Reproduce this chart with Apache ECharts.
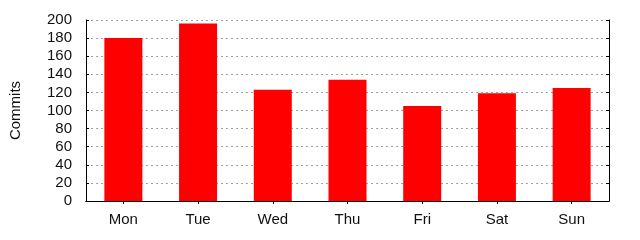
<!DOCTYPE html>
<html>
<head>
<meta charset="utf-8">
<script src="https://cdn.jsdelivr.net/npm/echarts@6/dist/echarts.min.js"></script>
<style>html,body{margin:0;padding:0;background:#fff}#c{width:640px;height:240px}</style>
</head>
<body>
<div id="c"></div>
<script>
const categories = ['Mon', 'Tue', 'Wed', 'Thu', 'Fri', 'Sat', 'Sun'];
const commits = [180, 196, 123, 134, 105, 119, 125];
const yTicks = [0, 20, 40, 60, 80, 100, 120, 140, 160, 180, 200];

const chart = echarts.init(document.getElementById('c'), null, {renderer: 'canvas'});
const font = 'Liberation Sans, Arial, sans-serif';
chart.setOption({
  animation: false,
  grid: {left: 84, right: 31, top: 20, bottom: 39, containLabel: false},
  xAxis: [{
    type: 'category', data: categories, position: 'bottom',
    axisLine: {lineStyle: {color: '#000', width: 1}},
    axisTick: {show: false},
    axisLabel: {color: '#111', fontFamily: font, fontSize: 15, margin: 11},
    splitLine: {show: false}
  }, {
    type: 'category', data: categories, position: 'top',
    axisLine: {lineStyle: {color: '#000', width: 1}},
    axisTick: {show: true, inside: true, alignWithLabel: true, length: 3, lineStyle: {color: '#000'}},
    axisLabel: {show: false}
  }],
  yAxis: [{
    type: 'value', min: yTicks[0], max: yTicks[yTicks.length - 1], interval: 20,
    name: 'Commits', nameLocation: 'middle', nameGap: 63, nameRotate: 90,
    nameTextStyle: {color: '#111', fontFamily: font, fontSize: 15},
    axisLine: {show: true, lineStyle: {color: '#000', width: 1}},
    axisTick: {show: true, inside: true, length: 3, lineStyle: {color: '#000'}},
    axisLabel: {color: '#111', fontFamily: font, fontSize: 15, margin: 14},
    splitLine: {show: true, lineStyle: {color: '#a0a0a0', type: [2, 3], width: 1}}
  }, {
    type: 'value', min: yTicks[0], max: yTicks[yTicks.length - 1], interval: 20, position: 'right',
    axisLine: {show: true, lineStyle: {color: '#000', width: 1}},
    axisTick: {show: true, inside: true, length: 3, lineStyle: {color: '#000'}},
    axisLabel: {show: false},
    splitLine: {show: false}
  }],
  series: [{
    type: 'bar', data: commits, barWidth: 38,
    itemStyle: {color: '#ff0000'},
    xAxisIndex: 0, yAxisIndex: 0
  }]
});
</script>
</body>
</html>
